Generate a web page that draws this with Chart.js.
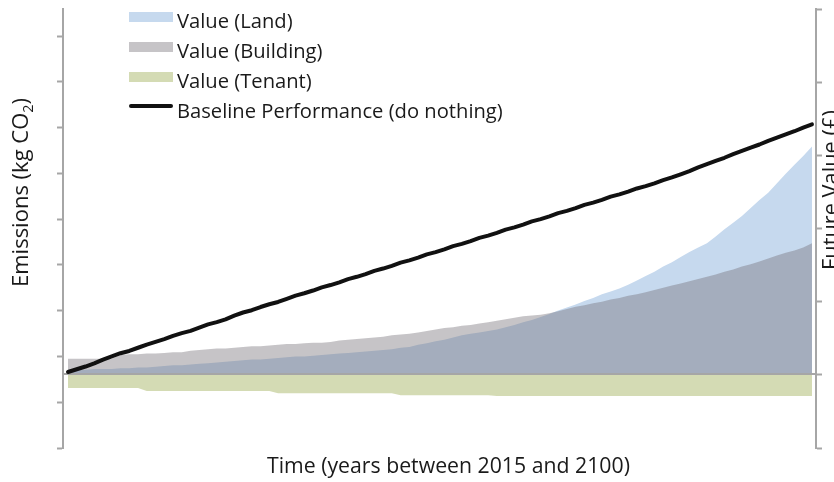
<!DOCTYPE html>
<html>
<head>
<meta charset="utf-8">
<script src="https://cdn.jsdelivr.net/npm/chart.js@4.4.1/dist/chart.umd.min.js"></script>
<style>
    html, body { margin: 0; padding: 0; background: #fff; }
    #wrap { width: 834px; height: 482px; }
</style>
</head>
<body>
<div id="wrap"><canvas id="emissionsChart" width="834" height="482"></canvas></div>
<script>
// years on the x axis
const firstYear = 2015;
const lastYear = 2100;
const years = [];
for (let yr = firstYear; yr <= lastYear; yr++) years.push(yr);

// right axis (Future Value), one value per year
const landValue = [
    0.07, 0.07, 0.07, 0.08, 0.08, 0.08, 0.09, 0.09, 0.10, 0.10,
    0.11, 0.12, 0.13, 0.13, 0.14, 0.15, 0.16, 0.17, 0.18, 0.19,
    0.20, 0.21, 0.21, 0.22, 0.23, 0.24, 0.25, 0.25, 0.26, 0.27,
    0.28, 0.29, 0.30, 0.31, 0.32, 0.33, 0.34, 0.35, 0.37, 0.38,
    0.41, 0.43, 0.46, 0.48, 0.51, 0.54, 0.56, 0.58, 0.60, 0.62,
    0.65, 0.68, 0.72, 0.75, 0.79, 0.83, 0.88, 0.92, 0.96, 1.01,
    1.05, 1.10, 1.14, 1.18, 1.23, 1.29, 1.35, 1.41, 1.48, 1.54,
    1.61, 1.68, 1.74, 1.80, 1.89, 1.99, 2.08, 2.17, 2.28, 2.39,
    2.49, 2.62, 2.75, 2.87, 2.99, 3.12
];
const buildingValue = [
    0.22, 0.22, 0.22, 0.22, 0.22, 0.22, 0.27, 0.28, 0.28, 0.29,
    0.29, 0.30, 0.31, 0.31, 0.33, 0.34, 0.35, 0.36, 0.36, 0.37,
    0.38, 0.39, 0.39, 0.40, 0.41, 0.42, 0.42, 0.43, 0.44, 0.44,
    0.45, 0.47, 0.48, 0.49, 0.50, 0.51, 0.52, 0.54, 0.55, 0.56,
    0.58, 0.60, 0.62, 0.64, 0.65, 0.67, 0.68, 0.70, 0.72, 0.74,
    0.76, 0.78, 0.80, 0.81, 0.82, 0.84, 0.87, 0.90, 0.93, 0.95,
    0.98, 1.00, 1.03, 1.05, 1.08, 1.10, 1.13, 1.16, 1.19, 1.22,
    1.25, 1.28, 1.31, 1.34, 1.37, 1.41, 1.44, 1.48, 1.51, 1.55,
    1.59, 1.63, 1.67, 1.70, 1.74, 1.80
];
const tenantValue = [
    -0.18, -0.18, -0.18, -0.18, -0.18, -0.18, -0.18, -0.18, -0.18,
    -0.22, -0.22, -0.22, -0.22, -0.22, -0.22, -0.22, -0.22, -0.22, -0.22,
    -0.22, -0.22, -0.22, -0.22, -0.22,
    -0.25, -0.25, -0.25, -0.25, -0.25, -0.25, -0.25, -0.25, -0.25, -0.25,
    -0.25, -0.25, -0.25, -0.25,
    -0.28, -0.28, -0.28, -0.28, -0.28, -0.28, -0.28, -0.28, -0.28, -0.28, -0.28,
    -0.29, -0.29, -0.29, -0.29, -0.29, -0.29, -0.29, -0.29, -0.29, -0.29,
    -0.29, -0.29, -0.29, -0.29, -0.29, -0.29, -0.29, -0.29, -0.29, -0.29,
    -0.29, -0.29, -0.29, -0.29, -0.29, -0.29, -0.29, -0.29, -0.29, -0.29,
    -0.29, -0.29, -0.29, -0.29, -0.29, -0.29, -0.29
];

// left axis (Emissions)
const baselineEmissions = [
    1.66, 1.72, 1.78, 1.85, 1.93, 2.00, 2.07, 2.12, 2.19, 2.26,
    2.32, 2.38, 2.45, 2.51, 2.56, 2.63, 2.70, 2.75, 2.81, 2.89,
    2.96, 3.01, 3.08, 3.14, 3.19, 3.26, 3.33, 3.38, 3.44, 3.51,
    3.56, 3.62, 3.69, 3.74, 3.80, 3.87, 3.92, 3.98, 4.05, 4.10,
    4.16, 4.23, 4.28, 4.34, 4.41, 4.46, 4.52, 4.59, 4.64, 4.70,
    4.77, 4.82, 4.88, 4.95, 5.00, 5.06, 5.13, 5.18, 5.24, 5.31,
    5.36, 5.42, 5.49, 5.54, 5.60, 5.67, 5.72, 5.78, 5.85, 5.91,
    5.98, 6.05, 6.13, 6.20, 6.27, 6.34, 6.42, 6.49, 6.56, 6.63,
    6.71, 6.78, 6.85, 6.92, 7.00, 7.07
];

// tick positions (the axes carry no tick labels)
const emissionTicks = [0, 1, 2, 3, 4, 5, 6, 7, 8, 9];
const valueTicks = [-1, 0, 1, 2, 3, 4, 5];

const seriesLabels = ['Value (Land)', 'Value (Building)', 'Value (Tenant)', 'Baseline Performance (do nothing)'];
const xTitle = 'Time (years between 2015 and 2100)';
const leftTitle = ['Emissions (kg CO', '2', ')'];
const rightTitle = 'Future Value (£)';

const axisGray = '#a6a6a6';
const fontFamily = '"Open Sans", "Liberation Sans", sans-serif';

document.addEventListener('DOMContentLoaded', () => {
    const ctx = document.getElementById('emissionsChart').getContext('2d');

    const points = (values) => values.map((v, i) => ({ x: years[i], y: v }));

    const fitSize = (c, text, width) => {
        c.font = `100px ${fontFamily}`;
        return 100 * width / c.measureText(text).width;
    };

    const chartTexts = {
        id: 'chartTexts',
        beforeDatasetDraw(chart, args) {
            if (args.meta.yAxisID !== 'y') return;
            const c = chart.ctx;
            const zy = Math.floor(chart.scales.y1.getPixelForValue(0));
            c.save();
            c.strokeStyle = axisGray;
            c.lineWidth = 2;
            c.beginPath();
            c.moveTo(chart.chartArea.left, zy);
            c.lineTo(chart.chartArea.right, zy);
            c.stroke();
            c.restore();
        },
        afterDraw(chart) {
            const c = chart.ctx;
            c.save();
            c.fillStyle = '#1a1a1a';
            c.textBaseline = 'alphabetic';
            c.textAlign = 'left';

            // x title
            let size = fitSize(c, xTitle, 363);
            c.font = `${size}px ${fontFamily}`;
            c.fillText(xTitle, 267, 473);

            // left title with subscript
            c.font = `100px ${fontFamily}`;
            const w1 = c.measureText(leftTitle[0]).width;
            const w3 = c.measureText(leftTitle[2]).width;
            c.font = `65px ${fontFamily}`;
            const w2 = c.measureText(leftTitle[1]).width;
            size = 100 * 189 / (w1 + w2 + w3);
            c.save();
            c.translate(28, 287);
            c.rotate(-Math.PI / 2);
            c.font = `${size}px ${fontFamily}`;
            c.fillText(leftTitle[0], 0, 0);
            let off = c.measureText(leftTitle[0]).width;
            c.font = `${size * 0.65}px ${fontFamily}`;
            c.fillText(leftTitle[1], off, size * 0.22);
            off += c.measureText(leftTitle[1]).width;
            c.font = `${size}px ${fontFamily}`;
            c.fillText(leftTitle[2], off, 0);
            c.restore();

            // right title, mostly outside the canvas
            size = fitSize(c, rightTitle, 160);
            c.save();
            c.translate(838, 270);
            c.rotate(-Math.PI / 2);
            c.font = `${size}px ${fontFamily}`;
            c.fillText(rightTitle, 0, 0);
            c.restore();

            // legend
            size = fitSize(c, seriesLabels[3], 326);
            c.font = `${size}px ${fontFamily}`;
            const rows = [28, 58, 88, 118];
            seriesLabels.forEach((label, i) => {
                const ds = chart.data.datasets.find(d => d.label === label);
                if (ds.fill) {
                    c.fillStyle = '#fff';
                    c.fillRect(129, rows[i] - 16, 44, 10);
                    c.fillStyle = ds.backgroundColor;
                    c.fillRect(129, rows[i] - 16, 44, 10);
                } else {
                    c.strokeStyle = ds.borderColor;
                    c.lineWidth = 4;
                    c.lineCap = 'round';
                    c.beginPath();
                    c.moveTo(131, rows[i] - 12);
                    c.lineTo(171, rows[i] - 12);
                    c.stroke();
                }
                c.fillStyle = '#1a1a1a';
                c.fillText(label, 177, rows[i]);
            });
            c.restore();
        }
    };

    const areaStyle = {
        borderWidth: 0,
        borderColor: 'rgba(0,0,0,0)',
        pointRadius: 0,
        tension: 0,
        fill: 'origin',
        yAxisID: 'y1'
    };

    new Chart(ctx, {
        type: 'line',
        data: {
            datasets: [
                {
                    label: seriesLabels[3],
                    data: points(baselineEmissions),
                    yAxisID: 'y',
                    borderColor: '#111111',
                    borderWidth: 4,
                    borderCapStyle: 'round',
                    borderJoinStyle: 'round',
                    pointRadius: 0,
                    fill: false,
                    order: 0
                },
                { ...areaStyle, label: seriesLabels[1], data: points(buildingValue), backgroundColor: 'rgba(112, 108, 115, 0.4)', order: 1 },
                { ...areaStyle, label: seriesLabels[0], data: points(landValue), backgroundColor: '#c6d9ee', order: 2 },
                { ...areaStyle, label: seriesLabels[2], data: points(tenantValue), backgroundColor: '#d4dbb4', order: 3 }
            ]
        },
        options: {
            responsive: false,
            animation: false,
            devicePixelRatio: 1,
            layout: { padding: { left: 57, right: 12, top: 9, bottom: 34 } },
            plugins: {
                legend: { display: false },
                tooltip: { enabled: false }
            },
            scales: {
                x: {
                    type: 'linear',
                    min: 2014.43,
                    max: 2100.46,
                    display: false
                },
                y: {
                    position: 'left',
                    min: 0,
                    max: 9.59,
                    afterBuildTicks: (axis) => { axis.ticks = emissionTicks.map(v => ({ value: v })); },
                    ticks: { display: false },
                    border: { display: true, color: axisGray, width: 2 },
                    grid: { drawOnChartArea: false, drawTicks: true, tickLength: 6, tickColor: axisGray, tickWidth: 2 }
                },
                y1: {
                    position: 'right',
                    min: -1,
                    max: 5,
                    afterBuildTicks: (axis) => { axis.ticks = valueTicks.map(v => ({ value: v })); },
                    ticks: { display: false },
                    border: { display: true, color: axisGray, width: 2 },
                    grid: { drawOnChartArea: false, drawTicks: true, tickLength: 6, tickColor: axisGray, tickWidth: 2 }
                }
            }
        },
        plugins: [chartTexts]
    });
});
</script>
</body>
</html>
